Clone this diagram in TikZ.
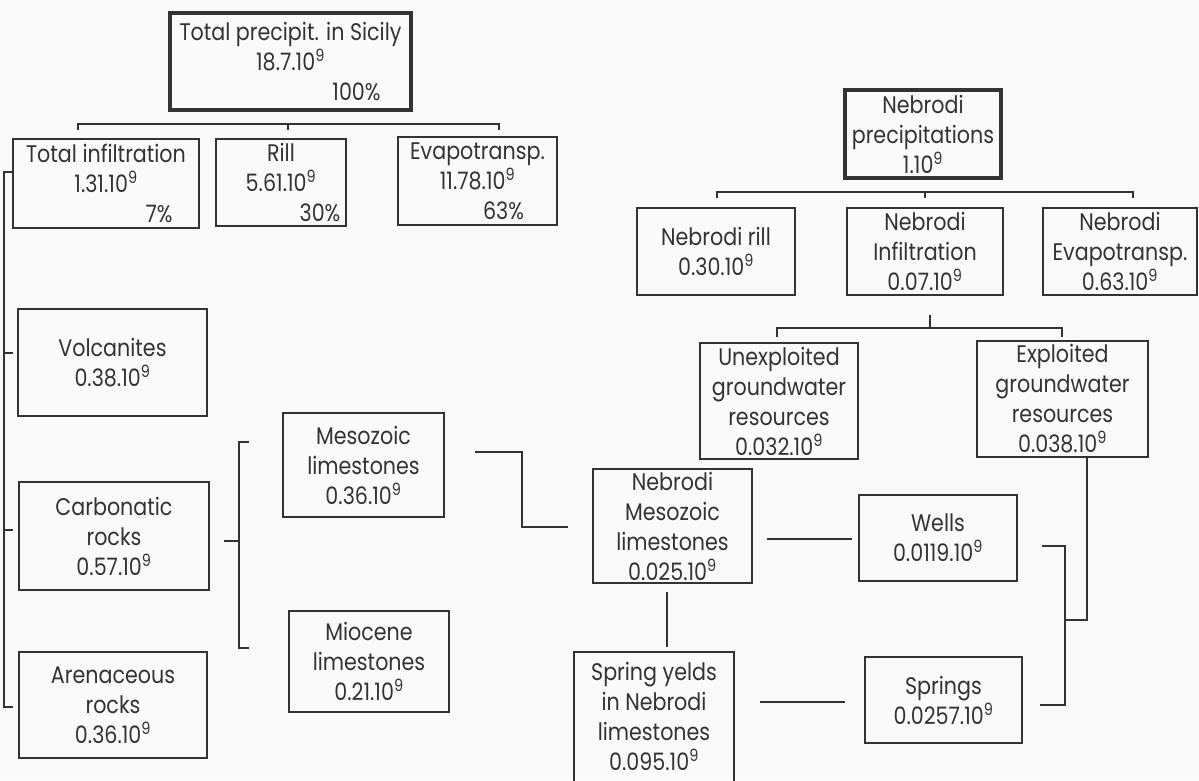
\documentclass[tikz,border=0pt]{standalone}
\usepackage{fontspec}
\setmainfont{Poppins}[FakeStretch=0.86]
\usetikzlibrary{calc}
\definecolor{ink}{HTML}{333333}
\definecolor{paper}{HTML}{FAFAFA}
\newcommand{\tenn}{10\textsuperscript{9}}
\begin{document}
\begin{tikzpicture}[x=1pt,y=-1pt,
  box/.style={draw=ink, line width=2pt, inner sep=0pt, align=center, text=ink,
    font=\fontsize{24}{30}\selectfont},
  bigbox/.style={box, line width=3.2pt},
  sz/.style n args={2}{minimum width=#1, minimum height=#2},
  conn/.style={draw=ink, line width=2pt}]
\useasboundingbox (0,0) rectangle (1199,780);
\fill[paper] (0,0) rectangle (1199,780);

% ---------- Sicily tree ----------
\node[bigbox, sz={241pt}{97pt}] (tp) at (290.5,61.5) {Total precipit. in Sicily\\18.7.\tenn\\\hspace*{132pt}100\%};
\node[box, sz={186pt}{89pt}] (ti) at (106,183.5) {Total infiltration\\1.31.\tenn\\\hspace*{106pt}7\%};
\node[box, sz={130pt}{87pt}] (rl) at (281,182.5) {Rill\\5.61.\tenn\\\hspace*{78pt}30\%};
\node[box, sz={159pt}{88pt}] (ev) at (477.5,181) {Evapotransp.\\11.78.\tenn\\\hspace*{52pt}63\%};

\node[box, sz={189pt}{107pt}] (vo) at (112.5,362.5) {Volcanites\\0.38.\tenn};
\node[box, sz={190pt}{108pt}] (ca) at (114,536) {Carbonatic\\rocks\\0.57.\tenn};
\node[box, sz={188pt}{106pt}] (ar) at (113,705) {Arenaceous\\rocks\\0.36.\tenn};
\node[box, sz={161pt}{104pt}] (ml) at (363.5,465) {Mesozoic\\limestones\\0.36.\tenn};
\node[box, sz={160pt}{101pt}] (mi) at (369,661.5) {Miocene\\limestones\\0.21.\tenn};

% ---------- Nebrodi tree ----------
\node[bigbox, sz={156pt}{88pt}] (np) at (923,134) {Nebrodi\\precipitations\\1.\tenn};
\node[box, sz={158pt}{87pt}] (nr) at (716,251.5) {Nebrodi rill\\0.30.\tenn};
\node[box, sz={156pt}{87pt}] (ni) at (925,251.5) {Nebrodi\\Infiltration\\0.07.\tenn};
\node[box, sz={154pt}{87pt}] (ne) at (1120,251.5) {Nebrodi\\Evapotransp.\\0.63.\tenn};
\node[box, sz={158pt}{116pt}] (ue) at (779,401) {Unexploited\\groundwater\\resources\\0.032.\tenn};
\node[box, sz={171pt}{116pt}] (ex) at (1062.5,399) {Exploited\\groundwater\\resources\\0.038.\tenn};
\node[box, sz={159pt}{114pt}] (nm) at (672.5,526) {Nebrodi\\Mesozoic\\limestones\\0.025.\tenn};
\node[box, sz={158pt}{86pt}] (we) at (938,538) {Wells\\0.0119.\tenn};
\node[box, sz={157pt}{86pt}] (sp) at (943.5,700) {Springs\\0.0257.\tenn};
% box runs off the bottom of the page: only three sides are drawn
\node[box, draw=none, sz={158pt}{126pt}] (sy) at (654,716) {Spring yelds\\in Nebrodi\\limestones\\0.095.\tenn};
\draw[conn] ([yshift=-2pt]sy.south west) -- (sy.north west) -- (sy.north east) -- ([yshift=-2pt]sy.south east);

% ---------- connectors, Sicily ----------
\coordinate (tbL) at (78,124);
\coordinate (tbM) at (288,124);
\coordinate (tbR) at (499,124);
\draw[conn] ([yshift=-6pt]tbL) -- (tbL) -- (tbR) -- ([yshift=-6pt]tbR);
\draw[conn] (tbM) -- ([yshift=-6pt]tbM);

\coordinate (spT) at (4,172);
\coordinate (spV) at (4,353);
\coordinate (spC) at (4,530);
\coordinate (spB) at (4,707);
\draw[conn] (spT -| ti.west) -- (spT) -- (spB) -- ([xshift=9pt]spB);
\draw[conn] (spV) -- ([xshift=9pt]spV);
\draw[conn] (spC) -- ([xshift=9pt]spC);

\coordinate (brT) at (239,442);
\coordinate (brM) at (239,541);
\coordinate (brB) at (239,648);
\draw[conn] ([xshift=10pt]brT) -- (brT) -- (brB) -- ([xshift=10pt]brB);
\draw[conn] (brM) -- ([xshift=-15pt]brM);

\coordinate (m1) at (475,452);
\coordinate (m2) at (522,452);
\coordinate (m3) at (522,527);
\coordinate (m4) at (568,527);
\draw[conn] (m1) -- (m2) -- (m3) -- (m4);

% ---------- connectors, Nebrodi ----------
\coordinate (nbL) at (717,192);
\coordinate (nbM) at (925,192);
\coordinate (nbR) at (1133,192);
\draw[conn] ([yshift=-6pt]nbL) -- (nbL) -- (nbR) -- ([yshift=-6pt]nbR);
\draw[conn] (nbM) -- ([yshift=-6pt]nbM);

\coordinate (giT) at (930,315);
\coordinate (giM) at (930,328);
\coordinate (giL) at (777,328);
\coordinate (giR) at (1062,328);
\draw[conn] (giT) -- (giM);
\draw[conn] ([yshift=-9pt]giL) -- (giL) -- (giR) -- ([yshift=-9pt]giR);

\coordinate (nw1) at (767,539);
\coordinate (nw2) at (852,539);
\draw[conn] (nw1) -- (nw2);

\coordinate (ns1) at (667,592);
\coordinate (ns2) at (667,647);
\draw[conn] (ns1) -- (ns2);

\coordinate (ss1) at (760,702);
\coordinate (ss2) at (845,702);
\draw[conn] (ss1) -- (ss2);

\coordinate (wb1) at (1042,546);
\coordinate (wb2) at (1065,546);
\coordinate (wb3) at (1065,705);
\coordinate (wb4) at (1040,705);
\draw[conn] (wb1) -- (wb2) -- (wb3) -- (wb4);

\coordinate (xd) at (1087,620);
\draw[conn] (ex.south -| xd) -- (xd) -- (xd -| wb2);
\end{tikzpicture}
\end{document}
